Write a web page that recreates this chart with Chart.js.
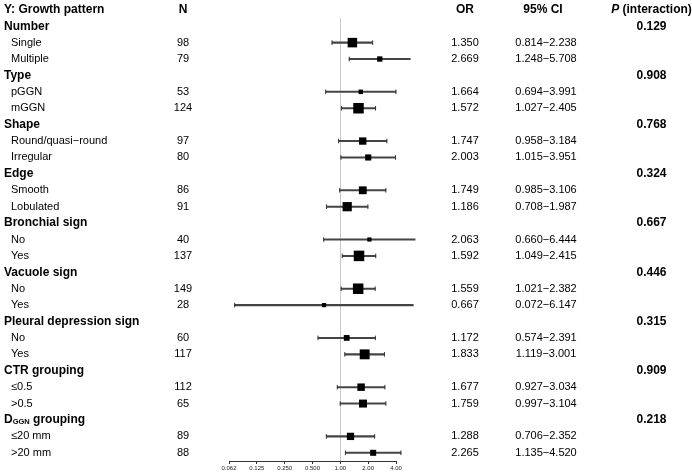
<!DOCTYPE html>
<html>
<head>
<meta charset="utf-8">
<script src="https://cdn.jsdelivr.net/npm/chart.js@4.4.1/dist/chart.umd.min.js"></script>
<style>
  html, body { margin: 0; padding: 0; background: #fff; }
  #wrap { width: 692px; height: 476px; position: relative; }
</style>
</head>
<body>
<div id="wrap"><canvas id="c" width="692" height="476"></canvas></div>
<script>
// ---------------- data ----------------
const groups = ['Number', 'Type', 'Shape', 'Edge', 'Bronchial sign', 'Vacuole sign',
  'Pleural depression sign', 'CTR grouping', 'D_{GGN} grouping'];
const pValues = ['0.129', '0.908', '0.768', '0.324', '0.667', '0.446', '0.315', '0.909', '0.218'];
const subgroups = [
  ['Single', 'Multiple'],
  ['pGGN', 'mGGN'],
  ['Round/quasi\u2212round', 'Irregular'],
  ['Smooth', 'Lobulated'],
  ['No', 'Yes'],
  ['No', 'Yes'],
  ['No', 'Yes'],
  ['\u22640.5', '>0.5'],
  ['\u226420 mm', '>20 mm']
];
const nValues = [98, 79, 53, 124, 97, 80, 86, 91, 40, 137, 149, 28, 60, 117, 112, 65, 89, 88];
const orValues = [1.350, 2.669, 1.664, 1.572, 1.747, 2.003, 1.749, 1.186, 2.063, 1.592,
  1.559, 0.667, 1.172, 1.833, 1.677, 1.759, 1.288, 2.265];
const ciLower = [0.814, 1.248, 0.694, 1.027, 0.958, 1.015, 0.985, 0.708, 0.660, 1.049,
  1.021, 0.072, 0.574, 1.119, 0.927, 0.997, 0.706, 1.135];
const ciUpper = [2.238, 5.708, 3.991, 2.405, 3.184, 3.951, 3.106, 1.987, 6.444, 2.415,
  2.382, 6.147, 2.391, 3.001, 3.034, 3.104, 2.352, 4.520];
const tickValues = [0.0625, 0.125, 0.25, 0.5, 1, 2, 4];
const tickLabels = ['0.062', '0.125', '0.250', '0.500', '1.00', '2.00', '4.00'];
const headerTitle = 'Y: Growth pattern';

// ---------------- derived rows ----------------
const FONT = '"Liberation Sans", Arial, Helvetica, sans-serif';
const fmt3 = v => v.toFixed(3);
const rows = [];
let r = 0, k = 0;
groups.forEach((g, gi) => {
  rows.push({ type: 'group', label: g, p: pValues[gi], row: r++ });
  subgroups[gi].forEach(s => {
    rows.push({ type: 'item', label: s, idx: k++, row: r++ });
  });
});
const items = rows.filter(d => d.type === 'item');
const L2 = Math.log2;

// box size from inverse-variance weight derived from the CI
function boxSide(i) {
  const se = Math.log(ciUpper[i] / ciLower[i]) / 3.92;
  const w = 1 / (se * se);
  return Math.max(4.2, Math.min(10.5, 2 + 0.5 * w));
}

const barData = items.map(d => ({ y: d.row, x: [L2(ciLower[d.idx]), L2(ciUpper[d.idx])] }));
const capData = [];
items.forEach(d => {
  capData.push({ x: L2(ciLower[d.idx]), y: d.row });
  capData.push({ x: L2(ciUpper[d.idx]), y: d.row });
});
const pointData = items.map(d => ({ x: L2(orValues[d.idx]), y: d.row }));
const pointRadii = items.map(d => boxSide(d.idx) / Math.SQRT2);

// ---------------- text plugin ----------------
const COL = { label: 4, item: 11, n: 183, or: 465, ci: 546, ciHead: 543, p: 651.5 };
function drawGroupLabel(ctx, text, x, y) {
  const m = text.match(/^(.*?)_\{(.*?)\}(.*)$/);
  ctx.textAlign = 'left';
  ctx.font = 'bold 12px ' + FONT;
  if (!m) { ctx.fillText(text, x, y); return; }
  ctx.fillText(m[1], x, y);
  let cx = x + ctx.measureText(m[1]).width;
  ctx.font = 'bold 7.5px ' + FONT;
  ctx.fillText(m[2], cx, y + 2);
  cx += ctx.measureText(m[2]).width;
  ctx.font = 'bold 12px ' + FONT;
  ctx.fillText(m[3], cx, y);
}
const textPlugin = {
  id: 'forestText',
  afterDraw(chart) {
    const ctx = chart.ctx, ys = chart.scales.y;
    ctx.save();
    ctx.fillStyle = '#000';
    ctx.textBaseline = 'middle';
    const hy = ys.getPixelForValue(-1);
    ctx.font = 'bold 12px ' + FONT;
    ctx.textAlign = 'left';
    ctx.fillText(headerTitle, COL.label, hy);
    ctx.textAlign = 'center';
    ctx.fillText('N', COL.n, hy);
    ctx.fillText('OR', COL.or, hy);
    ctx.fillText('95% CI', COL.ciHead, hy);
    ctx.font = 'italic bold 12px ' + FONT;
    const w1 = ctx.measureText('P').width;
    ctx.font = 'bold 12px ' + FONT;
    const w2 = ctx.measureText(' (interaction)').width;
    const x0 = COL.p - (w1 + w2) / 2;
    ctx.textAlign = 'left';
    ctx.font = 'italic bold 12px ' + FONT;
    ctx.fillText('P', x0, hy);
    ctx.font = 'bold 12px ' + FONT;
    ctx.fillText(' (interaction)', x0 + w1, hy);

    rows.forEach(d => {
      const y = ys.getPixelForValue(d.row);
      if (d.type === 'group') {
        drawGroupLabel(ctx, d.label, COL.label, y);
        ctx.font = 'bold 12px ' + FONT;
        ctx.textAlign = 'center';
        ctx.fillText(d.p, COL.p, y);
      } else {
        ctx.font = '11px ' + FONT;
        ctx.textAlign = 'left';
        ctx.fillText(d.label, COL.item, y);
        ctx.textAlign = 'center';
        ctx.fillText(String(nValues[d.idx]), COL.n, y);
        ctx.fillText(fmt3(orValues[d.idx]), COL.or, y);
        ctx.fillText(fmt3(ciLower[d.idx]) + '\u2212' + fmt3(ciUpper[d.idx]), COL.ci, y);
      }
    });
    ctx.restore();
  }
};

// ---------------- chart ----------------
new Chart(document.getElementById('c'), {
  type: 'scatter',
  data: {
    datasets: [
      {
        type: 'scatter', order: 0, data: pointData,
        pointStyle: 'rect', pointRadius: pointRadii, pointHoverRadius: pointRadii,
        backgroundColor: '#000', borderColor: '#000', borderWidth: 0, clip: false
      },
      {
        type: 'scatter', order: 1, data: capData,
        pointStyle: 'line', rotation: 90, pointRadius: 2.3, borderWidth: 1,
        borderColor: '#333', backgroundColor: '#333', clip: false
      },
      {
        type: 'bar', order: 2, indexAxis: 'y', data: barData,
        barThickness: 1.4, backgroundColor: '#444', borderWidth: 0, clip: false
      }
    ]
  },
  options: {
    responsive: false,
    animation: false,
    events: [],
    layout: { padding: { left: 229, right: 296, top: 18, bottom: 0 } },
    plugins: { legend: { display: false }, tooltip: { enabled: false } },
    scales: {
      x: {
        type: 'linear', offset: false,
        min: L2(tickValues[0]), max: L2(tickValues[tickValues.length - 1]),
        afterBuildTicks: s => { s.ticks = tickValues.map(v => ({ value: L2(v) })); },
        afterFit: s => { s.height = 15; },
        border: { display: true, color: '#333', width: 1 },
        grid: {
          drawOnChartArea: true, drawTicks: true, tickLength: 3, offset: false,
          color: c => (c.tick && c.tick.value === 0) ? '#c8c8c8' : 'rgba(0,0,0,0)',
          tickColor: '#333', lineWidth: 1
        },
        ticks: {
          autoSkip: false, maxRotation: 0, padding: 1, color: '#222',
          font: { size: 6, family: FONT },
          callback: (v, i) => tickLabels[i]
        }
      },
      y: {
        type: 'linear', display: false, reverse: true, offset: false,
        grid: { offset: false },
        min: -0.5, max: r - 0.5
      }
    }
  },
  plugins: [textPlugin]
});
</script>
</body>
</html>
